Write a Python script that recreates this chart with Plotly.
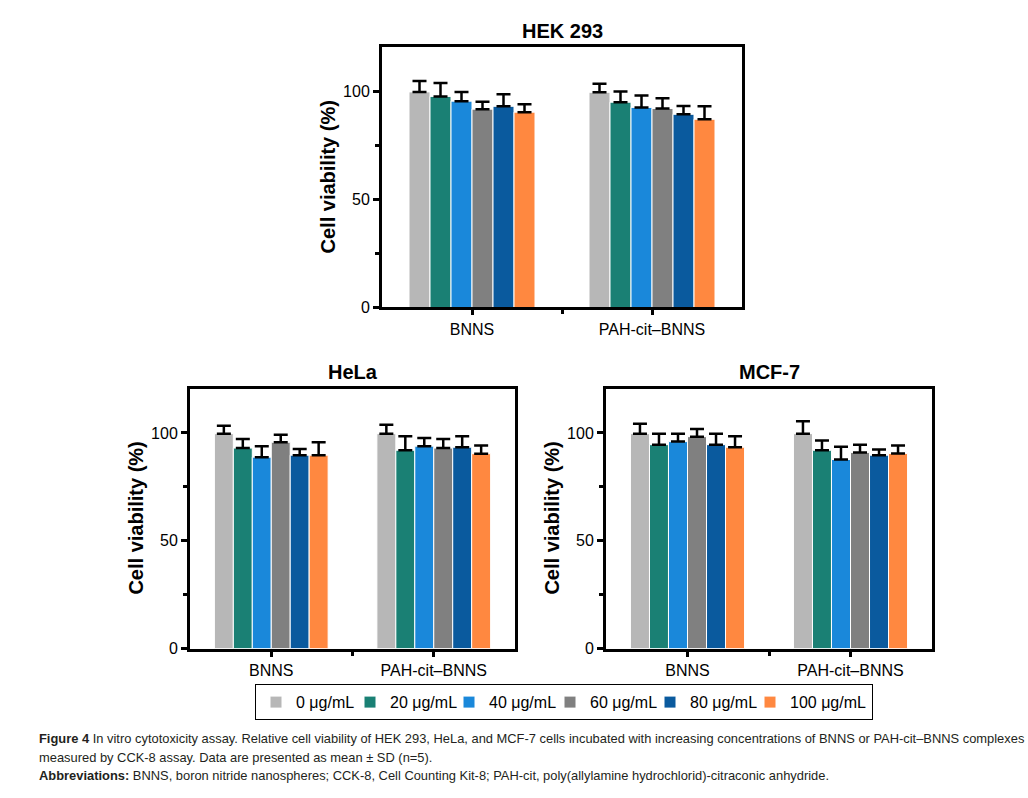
import plotly.graph_objects as go

W, H = 1028, 798

groups = ["BNNS", "PAH-cit–BNNS"]
concs = ["0 μg/mL", "20 μg/mL", "40 μg/mL", "60 μg/mL", "80 μg/mL", "100 μg/mL"]
colors = ["#b7b7b7", "#1a8074", "#1a88da", "#808080", "#0a5a9e", "#ff8840"]

# HEK 293
hek_bnns = [100.0, 97.9, 95.7, 92.0, 93.3, 90.6]
hek_bnns_sd = [5.1, 6.2, 4.3, 3.4, 5.6, 3.7]
hek_pah = [99.8, 95.2, 92.8, 92.3, 89.6, 87.3]
hek_pah_sd = [4.0, 5.0, 5.5, 4.8, 3.8, 6.0]
# HeLa
hela_bnns = [99.7, 93.0, 88.8, 95.7, 89.7, 89.7]
hela_bnns_sd = [3.7, 4.2, 5.1, 3.5, 2.9, 6.0]
hela_pah = [99.7, 92.0, 93.9, 93.0, 93.4, 90.4]
hela_pah_sd = [4.1, 6.5, 3.8, 4.2, 5.1, 3.8]
# MCF-7
mcf_bnns = [99.7, 94.6, 96.0, 98.3, 94.6, 93.4]
mcf_bnns_sd = [4.6, 5.1, 3.7, 3.5, 5.1, 5.1]
mcf_pah = [99.7, 92.0, 87.7, 91.0, 89.7, 90.5]
mcf_pah_sd = [5.7, 4.5, 5.9, 3.6, 2.6, 3.7]

panels = [
    ("HEK 293", hek_bnns, hek_bnns_sd, hek_pah, hek_pah_sd),
    ("HeLa", hela_bnns, hela_bnns_sd, hela_pah, hela_pah_sd),
    ("MCF-7", mcf_bnns, mcf_bnns_sd, mcf_pah, mcf_pah_sd),
]

# pixel frames: (left, right, top, bottom)
frames = [(382, 742, 48, 311), (190, 515, 393, 656), (606, 932, 393, 656)]
# legend entry widths (text area) per concentration
legend_widths = [49, 54, 56, 55, 55, None]

FONT = "Liberation Sans, Arial, sans-serif"

def px(x):
    return x / W

def py(y):
    return 1 - y / H

fig = go.Figure()

for pi, (name, b, bsd, p, psd) in enumerate(panels):
    sfx = "" if pi == 0 else str(pi + 1)
    for ci in range(len(concs)):
        kw = {}
        if legend_widths[ci]:
            kw["legendwidth"] = legend_widths[ci]
        fig.add_trace(go.Bar(
            x=[0, 1], y=[b[ci], p[ci]], name=concs[ci], legendgroup=concs[ci],
            showlegend=(pi == 0),
            marker=dict(color=colors[ci], line=dict(color="white", width=1)),
            error_y=dict(type="data", symmetric=False, array=[bsd[ci], psd[ci]],
                         arrayminus=[0, 0], color="black", thickness=2.5, width=7),
            xaxis="x" + sfx, yaxis="y" + sfx, **kw,
        ))

layout = dict(
    width=W, height=H, margin=dict(l=0, r=0, t=0, b=0),
    paper_bgcolor="white", plot_bgcolor="white",
    barmode="group", bargap=0.3, bargroupgap=0,
    font=dict(family=FONT, color="black", size=16),
    showlegend=True,
    legend=dict(orientation="h", x=px(255), xanchor="left", y=py(692), yanchor="top",
                bordercolor="black", borderwidth=1, font=dict(size=16, family=FONT),
                traceorder="normal"),
    annotations=[],
)

for pi, (l, r, t, b) in enumerate(frames):
    sfx = "" if pi == 0 else str(pi + 1)
    layout["xaxis" + sfx] = dict(
        domain=[px(l), px(r)], anchor="y" + sfx, range=[-0.5, 1.5],
        tickvals=[0, 1], ticktext=groups, ticks="outside", ticklen=5, tickwidth=2.5,
        tickcolor="black", showline=True, linecolor="black", linewidth=3, mirror=True,
        showgrid=False, zeroline=False, tickfont=dict(size=16),
        minor=dict(tickvals=[0.5], ticks="outside", ticklen=4, tickwidth=2.5, tickcolor="black"),
    )
    layout["yaxis" + sfx] = dict(
        domain=[py(b), py(t)], anchor="x" + sfx, range=[0, 120.6],
        tickvals=[0, 50, 100], ticks="outside", ticklen=6, tickwidth=2.5,
        tickcolor="black", showline=True, linecolor="black", linewidth=3, mirror=True,
        showgrid=False, zeroline=False, tickfont=dict(size=16),
        minor=dict(tickvals=[25, 75], ticks="outside", ticklen=4, tickwidth=2.5, tickcolor="black"),
    )
    # panel title
    layout["annotations"].append(dict(
        text=panels[pi][0], x=px((l + r) / 2), y=py(t - 17), xref="paper", yref="paper",
        showarrow=False, xanchor="center", yanchor="middle",
        font=dict(size=20, family=FONT, weight="bold")))
    # y axis title
    layout["annotations"].append(dict(
        text="Cell viability (%)", x=px(l - 54), y=py((t + b) / 2), xref="paper", yref="paper",
        showarrow=False, xanchor="center", yanchor="middle", textangle=-90,
        font=dict(size=20, family=FONT, weight="bold")))

captions = [
    ("<b>Figure 4</b> In vitro cytotoxicity assay. Relative cell viability of HEK 293, HeLa, and MCF-7 cells "
     "incubated with increasing concentrations of BNNS or PAH-cit–BNNS complexes", 747),
    ("measured by CCK-8 assay. Data are presented as mean ± SD (n=5).", 766),
    ("<b>Abbreviations:</b> BNNS, boron nitride nanospheres; CCK-8, Cell Counting Kit-8; PAH-cit, "
     "poly(allylamine hydrochlorid)-citraconic anhydride.", 784),
]
for text, yy in captions:
    layout["annotations"].append(dict(
        text=text, x=px(37), y=py(yy), xref="paper", yref="paper", showarrow=False,
        xanchor="left", yanchor="middle", font=dict(size=12.9, family=FONT, color="#231f20")))

fig.update_layout(**layout)
fig.write_html("out.html", config={"displayModeBar": False},
               post_script="document.body.style.margin='0';document.body.style.overflow='hidden';")
